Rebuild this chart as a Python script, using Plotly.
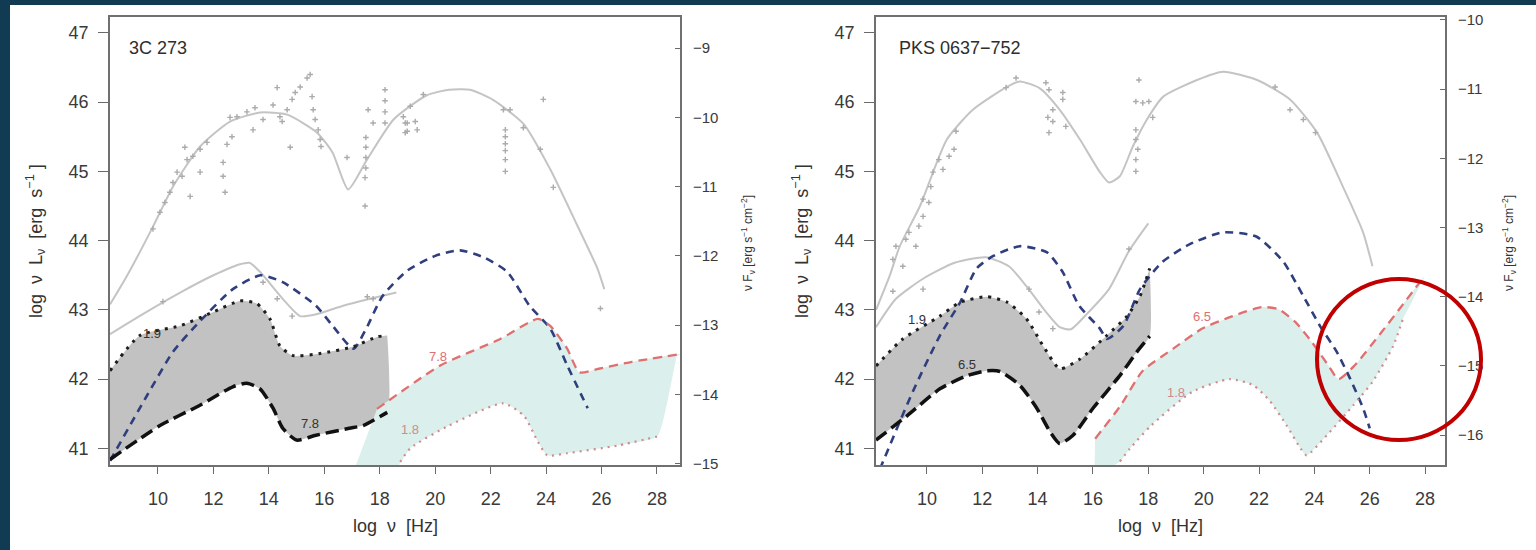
import plotly.graph_objects as go

W, H = 1536, 550

# ---------------- Left panel: 3C 273 ----------------
L_sed_x = [8.27, 8.88, 9.78, 10.54, 11.52, 12.6, 13.68, 14.66, 15.74, 16.3, 16.86, 17.54, 18.5, 19.7, 20.5, 21.26, 22.1, 23.2, 24.15, 25.1, 25.85, 26.1]
L_sed_y = [43.08, 43.49, 44.17, 44.78, 45.36, 45.72, 45.85, 45.82, 45.56, 45.27, 44.74, 45.17, 45.75, 46.1, 46.18, 46.18, 46.03, 45.68, 45.03, 44.24, 43.6, 43.3]

L_low_x = [8.27, 9.5, 10.8, 12.0, 12.96, 13.3, 13.68, 14.5, 15.13, 15.74, 16.68, 17.65, 18.6]
L_low_y = [42.65, 42.95, 43.25, 43.5, 43.66, 43.68, 43.55, 43.16, 42.91, 42.94, 43.06, 43.16, 43.25]

L_pts_x = [9.82, 10.07, 10.25, 10.43, 10.54, 10.69, 10.87, 11.05, 11.26, 11.52, 11.77, 10.97, 11.16, 11.52,
           12.35, 12.35, 12.42, 12.49, 12.67, 12.6, 12.85, 13.21, 13.43, 13.5, 13.79, 14.15, 14.3, 14.4, 14.48,
           14.66, 14.84, 14.95, 15.13, 15.38, 15.49, 14.77, 15.56, 15.6, 15.67, 15.78, 15.85, 15.88, 16.82,
           17.5, 17.5, 17.5, 17.5, 17.47, 17.47, 17.58, 17.76, 18.19, 18.19, 18.19, 18.19, 18.85, 18.99, 18.99,
           19.1, 19.57, 18.92, 18.92, 19.28, 19.35, 23.9, 22.46, 22.7, 22.53, 22.53, 22.53, 22.53, 22.53, 22.53,
           23.18, 23.79, 24.26, 25.96,
           10.18, 13.79, 14.3, 14.84, 17.55, 17.76]
L_pts_y = [44.17, 44.41, 44.55, 44.70, 44.84, 44.99, 44.93, 45.17, 45.22, 45.32, 45.42, 45.35, 44.64, 44.99,
           45.13, 44.93, 44.70, 45.39, 45.50, 45.78, 45.79, 45.86, 45.6, 45.92, 45.75, 45.96, 46.21, 45.79, 45.72,
           45.89, 46.04, 46.14, 46.22, 46.35, 46.4, 45.35, 46.08, 45.89, 45.75, 45.6, 45.46, 45.36, 45.2,
           45.49, 45.35, 45.2, 45.05, 44.91, 44.5, 45.89, 45.7, 46.18, 46.02, 45.86, 45.7, 45.79, 45.7, 45.58,
           45.94, 46.11, 45.7, 45.56, 45.72, 45.6, 46.04, 45.89, 45.89, 45.6, 45.5, 45.4, 45.3, 45.17, 45.0,
           45.63, 45.32, 44.77, 43.02,
           43.12, 43.4, 43.16, 42.91, 43.19, 43.16]

L_blue_x = [8.27, 9.6, 10.55, 11.5, 12.7, 13.7, 14.5, 15.7, 16.3, 17.05, 17.5, 18.1, 19.0, 20.0, 20.9, 21.8, 22.6, 23.4, 24.15, 24.76, 25.5]
L_blue_y = [40.82, 41.76, 42.4, 42.83, 43.3, 43.5, 43.4, 43.06, 42.77, 42.44, 42.72, 43.2, 43.57, 43.78, 43.86, 43.75, 43.55, 43.06, 42.73, 42.2, 41.58]

L_dot_x = [8.27, 9.35, 10.8, 12.0, 12.96, 13.57, 14.04, 14.4, 14.87, 15.85, 17.05, 17.9, 18.27]
L_dot_y = [42.12, 42.63, 42.77, 42.97, 43.13, 43.09, 42.87, 42.48, 42.34, 42.37, 42.47, 42.61, 42.63]

L_dash_x = [8.27, 10.07, 11.5, 12.7, 13.2, 13.68, 14.15, 14.5, 15.0, 15.7, 16.9, 17.4, 18.27]
L_dash_y = [40.84, 41.33, 41.62, 41.89, 41.94, 41.86, 41.58, 41.29, 41.12, 41.19, 41.29, 41.33, 41.52]

L_red_x = [17.9, 20.2, 22.35, 23.7, 24.15, 24.76, 25.2, 25.9, 27.1, 28.83]
L_red_y = [41.57, 42.2, 42.58, 42.87, 42.77, 42.44, 42.1, 42.15, 42.25, 42.36]

L_pink_x = [16.9, 18.6, 19.1, 20.5, 22.46, 23.2, 23.7, 24.04, 24.76, 26.57, 28.0]
L_pink_y = [40.5, 40.72, 41.0, 41.33, 41.65, 41.47, 41.1, 40.9, 40.93, 41.04, 41.17]
L_cyan_edge_x = [28.25, 28.7]
L_cyan_edge_y = [41.45, 42.32]

# ---------------- Right panel: PKS 0637-752 ----------------
R_sed_x = [8.16, 8.66, 9.02, 9.75, 10.72, 11.66, 12.89, 13.36, 14.08, 14.8, 15.53, 16.25, 16.58, 16.97, 17.44, 17.95, 18.54, 19.76, 20.7, 21.93, 23.12, 24.1, 25.03, 25.76, 26.1]
R_sed_y = [43.0, 43.5, 43.92, 44.5, 45.46, 45.89, 46.22, 46.3, 46.2, 45.89, 45.46, 44.99, 44.84, 44.93, 45.36, 45.75, 46.08, 46.32, 46.44, 46.32, 46.04, 45.56, 44.78, 44.12, 43.63]

R_low_x = [8.16, 8.88, 9.86, 11.0, 12.13, 12.96, 13.58, 14.3, 14.8, 15.2, 15.8, 16.58, 17.3, 18.0]
R_low_y = [42.75, 43.16, 43.45, 43.68, 43.76, 43.63, 43.35, 42.97, 42.75, 42.72, 42.95, 43.3, 43.85, 44.25]

R_pts_x = [8.77, 8.88, 9.13, 9.24, 9.35, 9.6, 9.71, 9.86, 9.86, 10.07, 10.14, 10.22, 10.43, 10.58, 10.8, 10.98, 11.05,
           12.86, 13.22, 14.3, 14.41, 14.91, 14.91, 14.55, 14.37, 14.55, 14.41, 15.02,
           17.66, 17.55, 17.8, 18.02, 18.16, 17.55, 17.55, 17.62, 17.55, 17.55,
           22.58, 23.6, 24.04, 23.12,
           9.86, 13.69, 17.3, 8.77, 14.05, 14.55]
R_pts_y = [43.73, 43.92, 43.63, 44.02, 44.12, 43.92, 44.21, 44.35, 44.6, 44.55, 44.78, 44.99, 45.17, 45.03, 45.22, 45.32, 45.58,
           46.21, 46.35, 46.28, 46.18, 46.14, 46.04, 45.89, 45.78, 45.72, 45.56, 45.65,
           46.32, 46.01, 45.99, 46.01, 45.78, 45.6, 45.46, 45.32, 45.17, 45.0,
           46.22, 45.75, 45.56, 45.89,
           43.3, 43.3, 43.88, 43.27, 42.97, 42.73]

R_blue_x = [8.3, 9.49, 10.47, 11.2, 11.8, 12.4, 13.36, 14.34, 14.9, 15.5, 16.25, 16.5, 17.1, 17.7, 18.5, 19.5, 20.7, 21.9, 22.87, 23.6, 24.2, 24.8, 25.3, 25.76, 26.0]
R_blue_y = [40.7, 41.82, 42.63, 43.11, 43.6, 43.78, 43.92, 43.83, 43.55, 43.06, 42.73, 42.58, 42.77, 43.3, 43.69, 43.95, 44.12, 44.06, 43.7, 43.2, 42.77, 42.4, 42.0, 41.58, 41.29]

R_dot_x = [8.16, 9.13, 10.47, 11.2, 12.17, 12.9, 13.6, 14.2, 14.8, 15.53, 16.5, 17.23, 17.7, 18.05]
R_dot_y = [42.19, 42.58, 42.91, 43.11, 43.19, 43.11, 42.87, 42.48, 42.15, 42.29, 42.63, 42.91, 43.2, 43.6]

R_dash_x = [8.16, 9.28, 10.47, 11.45, 12.17, 12.64, 13.36, 13.97, 14.45, 14.8, 15.28, 16.0, 16.97, 17.6, 18.05]
R_dash_y = [41.12, 41.47, 41.86, 42.05, 42.12, 42.11, 41.91, 41.58, 41.24, 41.07, 41.19, 41.58, 42.05, 42.4, 42.62]

R_red_x = [16.08, 17.0, 17.8, 18.9, 19.95, 21.05, 22.1, 22.7, 23.3, 23.9, 24.5, 24.87, 25.46, 26.43, 27.26, 27.98]
R_red_y = [41.14, 41.62, 42.12, 42.44, 42.73, 42.91, 43.04, 43.01, 42.83, 42.54, 42.2, 42.0, 42.2, 42.68, 43.11, 43.49]

R_pink_x = [16.05, 16.97, 17.34, 18.1, 19.6, 20.95, 21.8, 22.4, 23.0, 23.5, 23.72, 24.45, 25.4, 26.1, 26.85, 27.2]
R_pink_y = [40.6, 40.81, 41.0, 41.33, 41.82, 42.0, 41.91, 41.68, 41.33, 41.0, 40.9, 41.19, 41.62, 41.96, 42.48, 42.87]

# axis settings
L_xr = [8.27, 28.83]
R_xr = [8.16, 28.72]
YR = [40.76, 47.23]
L_off = 55.78
R_off = 57.19
x_ticks = list(range(10, 30, 2))
y_ticks = list(range(41, 48))
L_rticks = list(range(-15, -8))
R_rticks = list(range(-16, -9))

GRAY_LINE = "#c4c4c4"
GRAY_PT = "#ababab"
GRAY_FILL = "#c2c2c2"
CYAN_FILL = "#dbefed"
BLUE = "#2f3f7e"
RED = "#e07070"
PINK = "#cf8c8c"

fig = go.Figure()
SM = 0.6


def band(ux, uy, lx, ly):
    xs = ux + [ux[-1]] + lx[::-1] + [lx[0]]
    ys = uy + [uy[-1]] + ly[::-1] + [ly[0]]
    return xs, ys


def add_panel(xa, ya, sx, sy, lx, ly, px, py, bx, by, dx, dy, kx, ky, rx, ry, pkx, pky, cyan_extra_x, cyan_extra_y):
    gx, gy = band(dx, dy, kx, ky)
    fig.add_trace(go.Scatter(x=gx, y=gy, fill="toself", fillcolor=GRAY_FILL,
                             line=dict(width=0, shape="spline", smoothing=SM), mode="lines",
                             xaxis=xa, yaxis=ya, hoverinfo="skip", showlegend=False))
    cx_, cy_ = band(pkx + cyan_extra_x, pky + cyan_extra_y, rx, ry)
    fig.add_trace(go.Scatter(x=cx_, y=cy_, fill="toself", fillcolor=CYAN_FILL,
                             line=dict(width=0, shape="spline", smoothing=SM), mode="lines",
                             xaxis=xa, yaxis=ya, hoverinfo="skip", showlegend=False))
    for cx, cy in ((sx, sy), (lx, ly)):
        fig.add_trace(go.Scatter(x=cx, y=cy, mode="lines", line=dict(color=GRAY_LINE, width=2, shape="spline", smoothing=SM),
                                 xaxis=xa, yaxis=ya, hoverinfo="skip", showlegend=False))
    fig.add_trace(go.Scatter(x=px, y=py, mode="markers",
                             marker=dict(symbol="cross-thin", size=4, line=dict(color=GRAY_PT, width=1.4), color=GRAY_PT),
                             xaxis=xa, yaxis=ya, hoverinfo="skip", showlegend=False))
    fig.add_trace(go.Scatter(x=bx, y=by, mode="lines",
                             line=dict(color=BLUE, width=2.6, dash="8px,6px", shape="spline", smoothing=SM),
                             xaxis=xa, yaxis=ya, hoverinfo="skip", showlegend=False))
    fig.add_trace(go.Scatter(x=dx, y=dy, mode="lines",
                             line=dict(color="#1e1e1e", width=3, dash="3px,6px", shape="spline", smoothing=SM),
                             xaxis=xa, yaxis=ya, hoverinfo="skip", showlegend=False))
    fig.add_trace(go.Scatter(x=kx, y=ky, mode="lines",
                             line=dict(color="#111111", width=3.5, dash="13px,6px", shape="spline", smoothing=SM),
                             xaxis=xa, yaxis=ya, hoverinfo="skip", showlegend=False))
    fig.add_trace(go.Scatter(x=rx, y=ry, mode="lines",
                             line=dict(color=RED, width=2.3, dash="9px,6px", shape="spline", smoothing=SM),
                             xaxis=xa, yaxis=ya, hoverinfo="skip", showlegend=False))
    fig.add_trace(go.Scatter(x=pkx[1:], y=pky[1:], mode="lines",
                             line=dict(color=PINK, width=2.2, dash="2px,5px", shape="spline", smoothing=SM),
                             xaxis=xa, yaxis=ya, hoverinfo="skip", showlegend=False))


add_panel("x", "y", L_sed_x, L_sed_y, L_low_x, L_low_y, L_pts_x, L_pts_y, L_blue_x, L_blue_y,
          L_dot_x, L_dot_y, L_dash_x, L_dash_y, L_red_x, L_red_y, L_pink_x, L_pink_y,
          L_cyan_edge_x, L_cyan_edge_y)
add_panel("x2", "y2", R_sed_x, R_sed_y, R_low_x, R_low_y, R_pts_x, R_pts_y, R_blue_x, R_blue_y,
          R_dot_x, R_dot_y, R_dash_x, R_dash_y, R_red_x, R_red_y, R_pink_x, R_pink_y,
          [], [])

fig.add_trace(go.Scatter(x=[None], y=[None], xaxis="x", yaxis="y3", showlegend=False))
fig.add_trace(go.Scatter(x=[None], y=[None], xaxis="x2", yaxis="y4", showlegend=False))

TICKC = "#6a6a6a"
TXT = "#3a3a3a"
FONT = "Liberation Sans, Arial, sans-serif"
ydom = [(550 - 465) / H, (550 - 17) / H]


def xax(dom, rng, anchor):
    return dict(domain=dom, range=rng, anchor=anchor, tickvals=x_ticks, ticks="outside", ticklen=7,
                tickcolor=TICKC, tickwidth=1.3, showline=True, linecolor="#707070", linewidth=1.6, mirror=True,
                showgrid=False, zeroline=False, tickfont=dict(size=18, color=TXT, family=FONT),
                ticklabelstandoff=10, fixedrange=True, automargin=False)


def yax(rng, anchor):
    return dict(domain=ydom, range=rng, anchor=anchor, tickvals=y_ticks, ticks="outside", ticklen=10,
                tickcolor=TICKC, tickwidth=1.3, showline=True, linecolor="#707070", linewidth=1.6, mirror=True,
                showgrid=False, zeroline=False, tickfont=dict(size=18, color=TXT, family=FONT),
                ticklabelstandoff=6, fixedrange=True, automargin=False)


def rax(over, anchor, off, ticks):
    return dict(overlaying=over, anchor=anchor, side="right", range=[YR[0] - off, YR[1] - off],
                tickvals=ticks, ticktext=["\u2212" + str(-t) for t in ticks], ticks="inside", ticklen=5,
                tickcolor=TICKC, showline=False, showgrid=False, zeroline=False,
                tickfont=dict(size=15, color=TXT, family=FONT), ticklabelstandoff=12, fixedrange=True,
                automargin=False)


annotations = []


def ann(text, x, y, size, color="#333333", xanchor="center", angle=0, xref="paper", yref="paper"):
    annotations.append(dict(text=text, x=x, y=y, xref=xref, yref=yref, showarrow=False, xanchor=xanchor,
                            yanchor="middle", textangle=angle, font=dict(size=size, color=color, family=FONT)))


ann("log  \u03bd  L<sub>\u03bd</sub>  [erg  s<sup>\u22121</sup> ]", 35 / W, 1 - 241 / H, 18, angle=-90)
ann("log  \u03bd  L<sub>\u03bd</sub>  [erg  s<sup>\u22121</sup> ]", 801 / W, 1 - 241 / H, 18, angle=-90)
ann("\u03bd F<sub>\u03bd</sub> [erg s<sup>\u22121</sup> cm<sup>\u22122</sup>]", 748 / W, 1 - 243 / H, 12, angle=-90)
ann("\u03bd F<sub>\u03bd</sub> [erg s<sup>\u22121</sup> cm<sup>\u22122</sup>]", 1509 / W, 1 - 243 / H, 12, angle=-90)
ann("log  \u03bd  [Hz]", 395 / W, 1 - 526 / H, 18)
ann("log  \u03bd  [Hz]", 1160 / W, 1 - 526 / H, 18)
ann("3C 273", 127 / W, 1 - 48 / H, 18, color="#2e2e2e", xanchor="left")
ann("PKS 0637\u2212752", 897 / W, 1 - 48 / H, 18, color="#2e2e2e", xanchor="left")

for txt, x, y, c, xr, yr in [("1.9", 9.8, 42.66, "#333333", "x", "y"), ("7.8", 15.5, 41.36, "#333333", "x", "y"),
                             ("7.8", 20.1, 42.32, RED, "x", "y"), ("1.8", 19.1, 41.27, PINK, "x", "y"),
                             ("1.9", 9.64, 42.86, "#333333", "x2", "y2"), ("6.5", 11.45, 42.21, "#333333", "x2", "y2"),
                             ("6.5", 19.95, 42.9, RED, "x2", "y2"), ("1.8", 19.0, 41.8, PINK, "x2", "y2")]:
    ann(txt, x, y, 13, color=c, xref=xr, yref=yr)

shapes = [
    dict(type="rect", xref="paper", yref="paper", x0=10 / W, x1=1.02, y0=-0.02, y1=1 - 5 / H,
         fillcolor="white", line=dict(width=0), layer="below"),
    dict(type="circle", xref="paper", yref="paper", x0=1317 / W, x1=1481 / W, y0=1 - 440 / H, y1=1 - 279 / H,
         line=dict(color="#c00000", width=4)),
]

fig.update_layout(
    width=W, height=H, margin=dict(l=0, r=0, t=0, b=0, pad=0, autoexpand=False),
    paper_bgcolor="#103b52", plot_bgcolor="rgba(0,0,0,0)",
    showlegend=False, font=dict(family=FONT),
    xaxis=xax([110 / W, 680 / W], L_xr, "y"),
    yaxis=yax(YR, "x"),
    xaxis2=xax([876 / W, 1445 / W], R_xr, "y2"),
    yaxis2=yax(YR, "x2"),
    yaxis3=rax("y", "x", L_off, L_rticks),
    yaxis4=rax("y2", "x2", R_off, R_rticks),
    annotations=annotations, shapes=shapes,
)

post = ("document.body.style.margin='0';document.body.style.overflow='hidden';"
        "document.body.style.background='#ffffff';")

fig.write_html("out.html", config={"displayModeBar": False}, post_script=post)
